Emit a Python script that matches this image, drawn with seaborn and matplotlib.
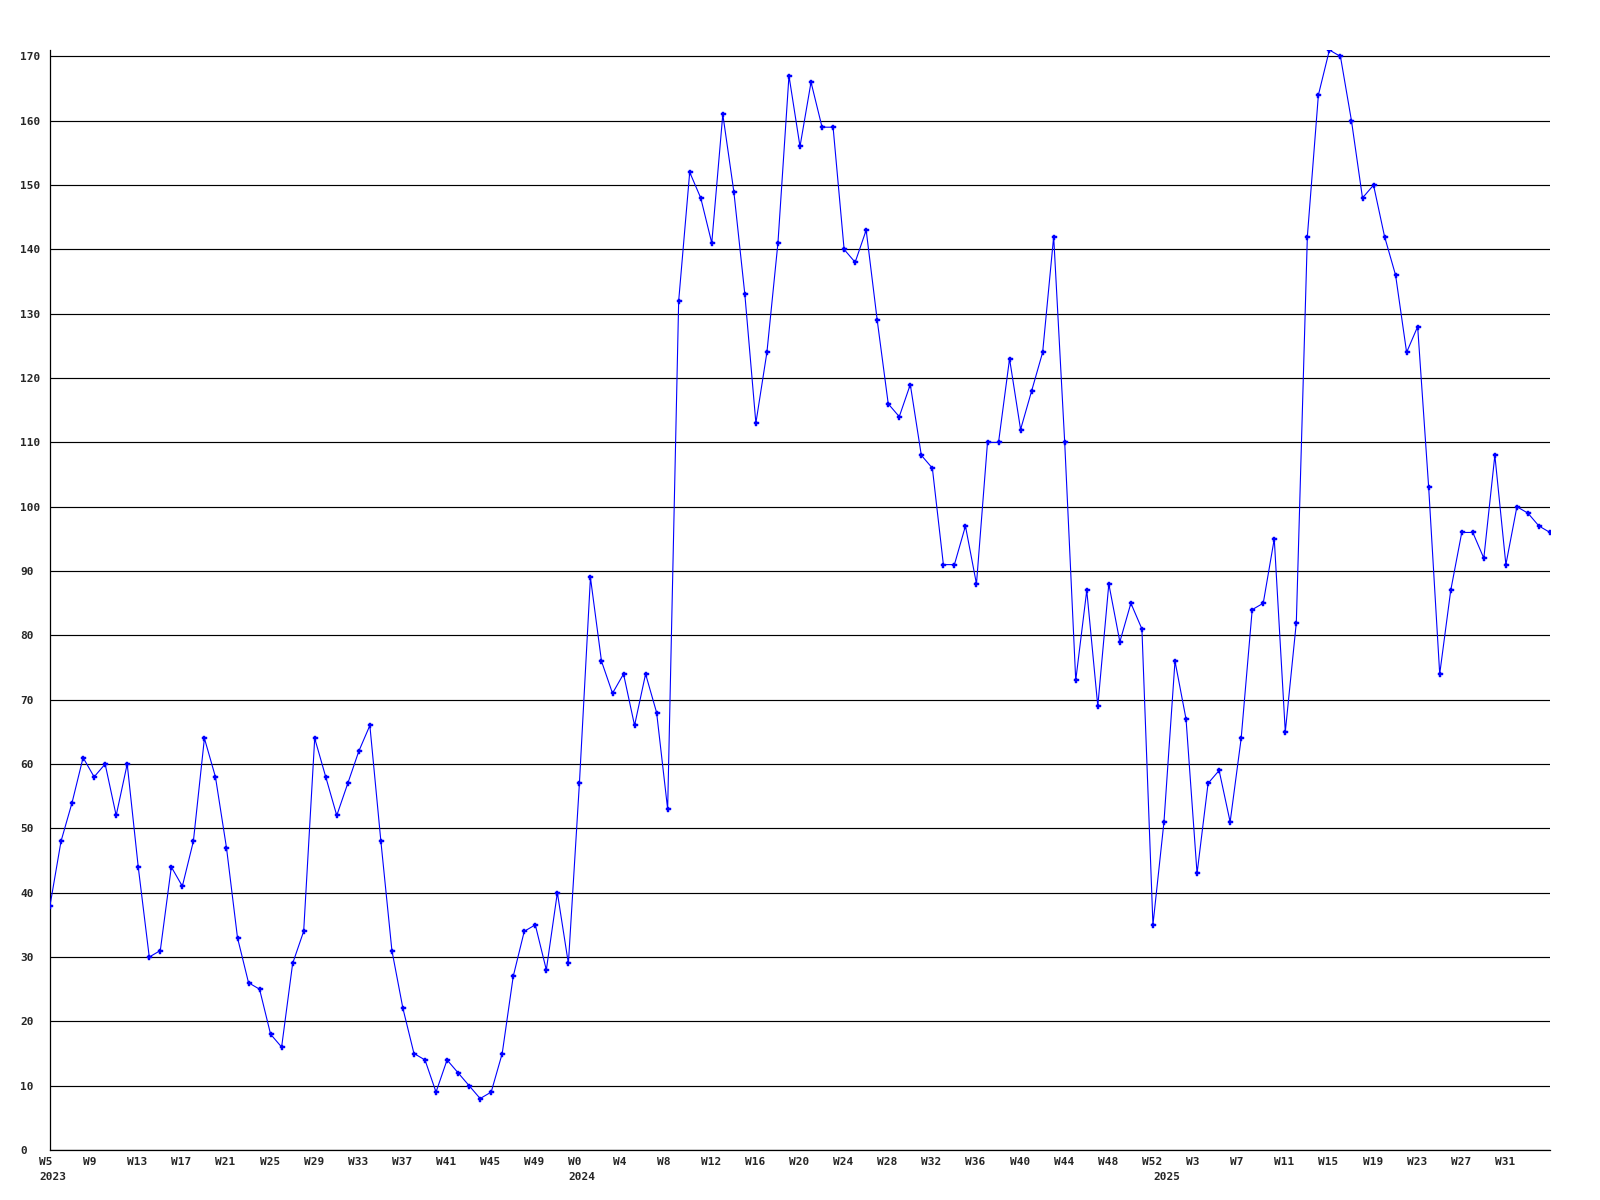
import matplotlib
matplotlib.use("Agg")
import matplotlib.pyplot as plt
from matplotlib.transforms import ScaledTranslation, blended_transform_factory
import seaborn as sns
import pandas as pd

# ---- data -------------------------------------------------------------
values = [
    38, 48, 54, 61, 58, 60, 52, 60, 44, 30, 31, 44, 41, 48, 64, 58, 47, 33, 26, 25,
    18, 16, 29, 34, 64, 58, 52, 57, 62, 66, 48, 31, 22, 15,
    14, 9, 14, 12, 10, 8, 9, 15, 27, 34, 35, 28, 40, 29,
    57, 89, 76, 71, 74, 66, 74, 68, 53,
    132, 152, 148, 141, 161, 149, 133, 113, 124, 141, 167, 156, 166, 159, 159,
    140, 138, 143, 129, 116, 114, 119, 108, 106, 91, 91, 97, 88, 110, 110, 123, 112, 118, 124, 142,
    110, 73, 87, 69, 88, 79, 85, 81, 35, 51, 76, 67, 43, 57, 59, 51, 64, 84, 85, 95, 65, 82,
    142, 164, 171, 170, 160, 148, 150, 142, 136, 124, 128, 103, 74, 87, 96, 96, 92, 108, 91, 100, 99, 97, 96,
]
week_tick_labels = [
    "W5", "W9", "W13", "W17", "W21", "W25", "W29", "W33", "W37", "W41", "W45", "W49",
    "W0", "W4", "W8", "W12", "W16", "W20", "W24", "W28", "W32", "W36", "W40", "W44", "W48", "W52",
    "W3", "W7", "W11", "W15", "W19", "W23", "W27", "W31",
]
# year label and the index of the week where that year starts
year_labels = ["2023", "2024", "2025"]
year_start_index = [0, 48, 101]
y_ticks = list(range(0, 171, 10))

df = pd.DataFrame({"week": range(len(values)), "value": values})

# ---- style ------------------------------------------------------------
sns.set_style("white")
plt.rcParams["font.family"] = ["DejaVu Sans Mono", "DejaVu Sans"]
plt.rcParams["font.weight"] = "bold"

W, H, DPI = 1600, 1200, 100
fig = plt.figure(figsize=(W / DPI, H / DPI), dpi=DPI)
ax = fig.add_axes([50 / W, 50 / H, 1500 / W, 1100 / H])

sns.lineplot(data=df, x="week", y="value", ax=ax, color="#0000ff", linewidth=0.8,
             marker="P", markersize=3.6, markeredgecolor="#0000ff",
             markeredgewidth=0.3, zorder=3)

ax.set_xlim(0, len(values) - 1)
ax.set_ylim(0, 171)

# grid
ax.set_axisbelow(True)
for v in y_ticks:
    ax.axhline(v, color="black", lw=0.85, zorder=1)

for s in ["top", "right"]:
    ax.spines[s].set_visible(False)
for s in ["left", "bottom"]:
    ax.spines[s].set_color("black")
    ax.spines[s].set_linewidth(0.9)

ax.set_xlabel("")
ax.set_ylabel("")

# y ticks: labels left-aligned at x=20px
ax.set_yticks(y_ticks)
ax.set_yticklabels([str(v) for v in y_ticks])
ax.tick_params(axis="y", length=0, pad=30 * 72 / DPI, labelsize=8)
for lbl in ax.get_yticklabels():
    lbl.set_ha("left")
    lbl.set_fontweight("bold")

# x ticks every 4 weeks
xt = list(range(0, len(values), 4))[: len(week_tick_labels)]
ax.set_xticks(xt)
ax.set_xticklabels(week_tick_labels)
ax.tick_params(axis="x", length=0, pad=7 * 72 / DPI, labelsize=8)
off = ScaledTranslation(-11 / DPI, 0, fig.dpi_scale_trans)
for lbl in ax.get_xticklabels():
    lbl.set_ha("left")
    lbl.set_fontweight("bold")
    lbl.set_transform(lbl.get_transform() + off)

# year labels under the week labels
trans = blended_transform_factory(ax.transData, ax.transAxes) + \
    ScaledTranslation(-11 / DPI, -22 / DPI, fig.dpi_scale_trans)
for txt, pos in zip(year_labels, year_start_index):
    ax.text(pos, 0, txt, transform=trans, ha="left", va="top",
            fontsize=8, fontweight="bold")

fig.savefig("out.png", dpi=DPI)
